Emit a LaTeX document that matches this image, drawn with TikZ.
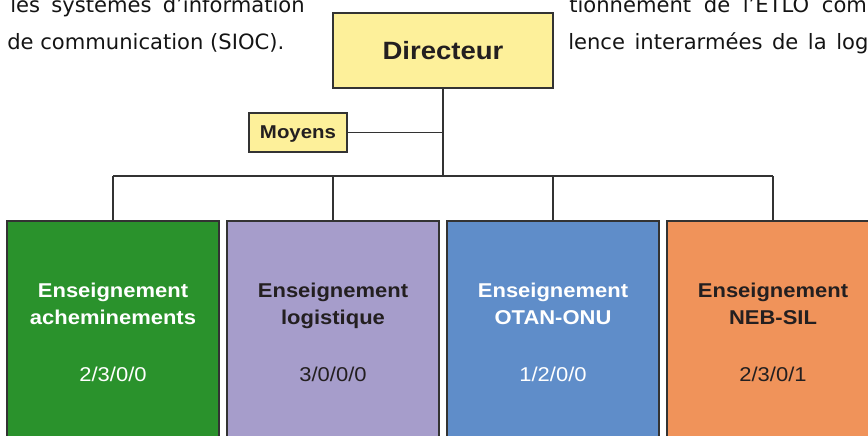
\documentclass[tikz,border=0pt]{standalone}
\usepackage{fontspec}
\setmainfont{DejaVu Sans}
\newfontfamily\orgfont{Liberation Sans}[FakeStretch=1.1]
\usepackage{xcolor}
\usepackage{tikz}
\definecolor{dirYellow}{HTML}{FDF09A}
\definecolor{ensGreen}{HTML}{2A922C}
\definecolor{ensPurple}{HTML}{A69DCB}
\definecolor{ensBlue}{HTML}{5F8DC9}
\definecolor{ensOrange}{HTML}{F0935A}
\definecolor{lineGray}{HTML}{333333}
\definecolor{inkDark}{HTML}{231F20}

\begin{document}
\begin{tikzpicture}[x=0.025cm,y=-0.025cm,
  orgbox/.style={draw=lineGray,line width=1.4pt,inner sep=0pt},
  link/.style={draw=lineGray,line width=1.3pt},
  bodytext/.style={anchor=base west,inner sep=0pt,text=black!92,
    font=\fontsize{15}{18}\selectfont},
  enstitle/.style={anchor=base,inner sep=0pt,
    font=\orgfont\bfseries\fontsize{14.2}{17}\selectfont},
  ensnum/.style={anchor=base,inner sep=0pt,
    font=\orgfont\fontsize{14.2}{17}\selectfont}]
\useasboundingbox (0,0) rectangle (868,435);

% --- running text around the chart ---
\node[bodytext,anchor=base east] (txtA) at (305,12)
  {r\hspace{8pt}les\hspace{8pt}systèmes\hspace{8pt}d'information};
\node[bodytext] (txtB) at (7,49) {de communication (SIOC).};
\node[bodytext] (txtC) at (569,12)
  {tionnement\hspace{9pt}de\hspace{9pt}l'ETLO\hspace{9pt}com};
\node[bodytext] (txtD) at (568,49)
  {lence\hspace{6.8pt}interarmées\hspace{6.8pt}de\hspace{6.8pt}la\hspace{6.8pt}log};

% --- head ---
\node[orgbox,fill=dirYellow,minimum width=5.5cm,minimum height=1.875cm,
  text=inkDark,font=\orgfont\bfseries\fontsize{17.8}{20}\selectfont]
  (dir) at (443,50.5) {Directeur};
\node[orgbox,fill=dirYellow,minimum width=2.45cm,minimum height=0.975cm,
  text depth=0pt,text=inkDark,font=\orgfont\bfseries\fontsize{13.2}{15}\selectfont]
  (moy) at (298,132.5) {Moyens};
\coordinate (bus) at (443,176);

% --- teaching units ---
\foreach \i/\x/\fillc/\inkc/\subname/\nums in {
  1/113/ensGreen/white/acheminements/{2/3/0/0},
  2/333/ensPurple/inkDark/logistique/{3/0/0/0},
  3/553/ensBlue/white/OTAN-ONU/{1/2/0/0},
  4/773/ensOrange/inkDark/NEB-SIL/{2/3/0/1}}{
  \node[orgbox,fill=\fillc,minimum width=5.275cm,minimum height=5.725cm]
    (ens\i) at (\x,335.5) {};
  \node[enstitle,text=\inkc] (ens\i top) at (\x,297) {Enseignement};
  \node[enstitle,text=\inkc] (ens\i sub) at (\x,324) {\subname};
  \node[ensnum,text=\inkc] (ens\i num) at (\x,381) {\nums};
  \draw[link] (ens\i.north) -- (ens\i.north |- bus);
}

% --- links ---
\draw[link] (dir.south) -- (bus);
\draw[link] (moy.east) -- (moy.east -| dir.south);
\draw[link] (ens1.north |- bus) -- (ens4.north |- bus);
\end{tikzpicture}
\end{document}
